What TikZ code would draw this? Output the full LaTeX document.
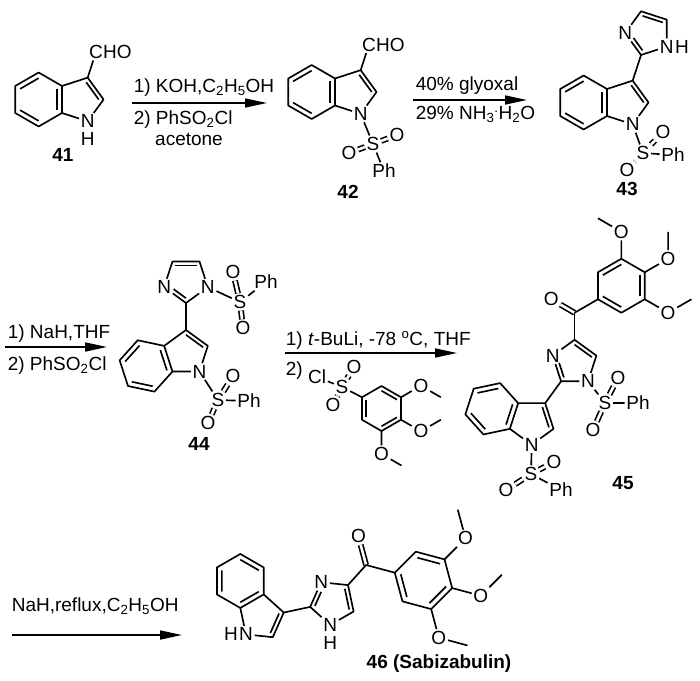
\documentclass[tikz,border=0pt]{standalone}
\usepackage{fontspec}
\setmainfont{Liberation Sans}
\usepackage{tikz}
\usetikzlibrary{arrows.meta}
\usetikzlibrary{calc}
\usetikzlibrary{positioning}

\newcommand{\chemfont}{\fontsize{19}{22}\selectfont}
\newcommand{\ringdb}[3]{\draw ($(#1)!0.21!(#3)$) -- ($(#2)!0.21!(#3)$);}

\newcommand{\indole}[1]{%
  \coordinate (#1a) at (0,-13.5);
  \coordinate (#1b) at (0,13.5);
  \coordinate (#1c4) at (-23.38,-27);
  \coordinate (#1c5) at (-46.77,-13.5);
  \coordinate (#1c6) at (-46.77,13.5);
  \coordinate (#1c7) at (-23.38,27);
  \coordinate (#1bz) at (-23.38,0);
  \coordinate (#1pz) at (18.58,0);
  \coordinate (#1c3) at (25.68,-21.85);
  \coordinate (#1c2) at (41.55,0);
  \coordinate (#1x) at (34.02,-47.53);
  \coordinate (#1y) at (41.12,-69.37);
  \node[atom] (#1n) at (25.68,21.85) {N};
  \draw (#1a) -- (#1c4) -- (#1c5) -- (#1c6) -- (#1c7) -- (#1b) -- cycle;
  \draw (#1a) -- (#1c3) -- (#1c2) -- (#1n) -- (#1b);
  \ringdb{#1a}{#1b}{#1bz} \ringdb{#1c4}{#1c5}{#1bz} \ringdb{#1c6}{#1c7}{#1bz}
  \ringdb{#1c3}{#1c2}{#1pz}
}

\newcommand{\imid}[1]{%
  \coordinate (#1c) at (0,0);
  \coordinate (#1c2) at (90:22.97);
  \coordinate (#1c4) at (234:22.97);
  \coordinate (#1c5) at (306:22.97);
  \coordinate (#1k) at (234:49.97);
  \node[atom] (#1n3) at (162:22.97) {N};
  \node[atom] (#1n1) at (18:22.97) {N};
  \draw (#1c2) -- (#1n3) -- (#1c4) -- (#1c5) -- (#1n1) -- (#1c2);
  \ringdb{#1c4}{#1c5}{#1c}
  \draw[shorten <=6pt] ($(#1n3)!0.21!(#1c)$) -- ($(#1c2)!0.21!(#1c)$);
}

\newcommand{\aroyl}[1]{%
  \coordinate (#1k) at (0,0);
  \coordinate (#1r) at (46.77,-27);
  \coordinate (#1v1) at (23.38,-13.5);
  \coordinate (#1v2) at (23.38,-40.5);
  \coordinate (#1v3) at (46.77,-54);
  \coordinate (#1v4) at (70.15,-40.5);
  \coordinate (#1v5) at (70.15,-13.5);
  \coordinate (#1v6) at (46.77,0);
  \node[atom] (#1o) at (-23.38,-13.5) {O};
  \node[atom] (#1oa) at (46.77,-81) {O};
  \node[atom] (#1ob) at (93.53,-54) {O};
  \node[atom] (#1oc) at (93.53,0) {O};
  \coordinate (#1ma) at (23.39,-94.5);
  \coordinate (#1mb) at (93.53,-81);
  \coordinate (#1mc) at (116.91,-13.5);
  \draw[dbl] (#1k) -- (#1o);
  \draw (#1k) -- (#1v1);
  \draw (#1v1) -- (#1v2) -- (#1v3) -- (#1v4) -- (#1v5) -- (#1v6) -- cycle;
  \ringdb{#1v2}{#1v3}{#1r} \ringdb{#1v4}{#1v5}{#1r} \ringdb{#1v6}{#1v1}{#1r}
  \draw (#1v3) -- (#1oa) -- (#1ma);
  \draw (#1v4) -- (#1ob) -- (#1mb);
  \draw (#1v5) -- (#1oc) -- (#1mc);
}

\newcommand{\sulfonyl}[6]{%
  \node[atom] (#1s) at (#3) {S};
  \node[atom] (#1oa) at (#4) {O};
  \node[atom] (#1ob) at (#5) {O};
  \node[atom] (#1ph) at (#6) {Ph};
  \draw (#2) -- (#1s) -- (#1ph);
  \draw[dbl] (#1s) -- (#1oa);
  \draw[dbl] (#1s) -- (#1ob);
}

\begin{document}
\begin{tikzpicture}[x=1pt, y=-1pt, line width=1.65pt, line join=round,
  atom/.style={inner sep=1pt, font=\chemfont},
  cpd/.style={inner sep=0pt, font=\chemfont\bfseries},
  cond/.style={inner sep=0pt, font=\chemfont},
  dbl/.style={double, double distance=2.6pt},
  rxn/.style={-{Triangle[length=22pt, width=9pt]}}]
\useasboundingbox (0,0) rectangle (700,680);

% 41
\begin{scope}[shift={(62,99.5)}]
  \indole{i41}
\end{scope}
\node[atom, below=1pt of i41n] (h41) {H};
\node[atom] (c41) at (i41x) {C};
\node[atom, right=-3.5pt of c41] (ho41) {HO};
\draw (i41c3) -- (c41);
\node[cpd] (l41) at (63,155) {41};

\coordinate (a1s) at (132,103);
\coordinate (a1e) at (267,103);
\draw[rxn] (a1s) -- (a1e);
\node[cond, anchor=base west] (t1a) at (133,92) {1) KOH,C\textsubscript{2}H\textsubscript{5}OH};
\node[cond, anchor=base west] (t1b) at (133,124) {2) PhSO\textsubscript{2}Cl};
\node[cond, anchor=base] (t1c) at (189,145) {acetone};

% 42
\begin{scope}[shift={(335,92)}]
  \indole{i42}
\end{scope}
\node[atom] (c42) at (i42x) {C};
\node[atom, right=-3.5pt of c42] (ho42) {HO};
\draw (i42c3) -- (c42);
\sulfonyl{s42}{i42n}{373,144}{349,153}{397,135}{384,171}
\node[cpd] (l42) at (348,192) {42};

\coordinate (a2s) at (413,100);
\coordinate (a2e) at (527,100);
\draw[rxn] (a2s) -- (a2e);
\node[cond, anchor=base west] (t2a) at (415,90) {40\% glyoxal};
\node[cond, anchor=base west] (t2b) at (415,119) {29\% NH\textsubscript{3}\textsuperscript{.}H\textsubscript{2}O};

% 43
\begin{scope}[shift={(607,102.5)}]
  \indole{i43}
\end{scope}
\begin{scope}[shift={(i43y)}, rotate=-18]
  \imid{m43}
\end{scope}
\draw (i43c3) -- (m43c2);
\node[atom, right=-2pt of m43n1] (h43) {H};
\sulfonyl{s43}{i43n}{643,153}{663,132}{627,170}{673,155}
\node[cpd] (l43) at (627,189) {43};

% 44
\coordinate (a3s) at (5,347);
\coordinate (a3e) at (107,347);
\draw[rxn] (a3s) -- (a3e);
\node[cond, anchor=base west] (t3a) at (7,338) {1) NaH,THF};
\node[cond, anchor=base west] (t3b) at (7,370) {2) PhSO\textsubscript{2}Cl};

\begin{scope}[shift={(168.3,358.7)}, rotate=18]
  \indole{i44}
\end{scope}
\begin{scope}[shift={(i44y)}]
  \imid{m44}
\end{scope}
\draw (i44c3) -- (m44c2);
\sulfonyl{s44a}{m44n1}{240,302}{233,272}{243,328}{266,282}
\sulfonyl{s44b}{i44n}{218,400}{233,376}{208,423}{249,401}
\node[cpd] (l44) at (199,444) {44};

% reagent
\coordinate (a4s) at (285,353);
\coordinate (a4e) at (457,353);
\draw[rxn] (a4s) -- (a4e);
\node[cond, anchor=base west] (t4a) at (285,345) {1) \textit{t}-BuLi, -78 \textsuperscript{o}C, THF};
\node[cond, anchor=base west] (t4b) at (285,375) {2)};
\coordinate (rc) at (381.5,408.5);
\foreach \a [count=\i] in {210,270,330,30,90,150}
  \coordinate (r\i) at ($(rc)+(\a:22.5)$);
\draw (r1) -- (r2) -- (r3) -- (r4) -- (r5) -- (r6) -- cycle;
\ringdb{r2}{r3}{rc} \ringdb{r4}{r5}{rc} \ringdb{r6}{r1}{rc}
\node[atom] (rs) at (342,387) {S};
\node[atom] (rcl) at (317,377) {Cl};
\node[atom] (rsa) at (354,367) {O};
\node[atom] (rsb) at (333,405) {O};
\draw (r1) -- (rs) -- (rcl);
\draw[dbl] (rs) -- (rsa);
\draw[dbl] (rs) -- (rsb);
\node[atom] (ro1) at ($(rc)+(330:45.5)$) {O};
\node[atom] (ro2) at ($(rc)+(30:45.5)$) {O};
\node[atom] (ro3) at ($(rc)+(90:45.5)$) {O};
\coordinate (rm1) at ($(ro1)+(30:23)$);
\coordinate (rm2) at ($(ro2)+(330:23)$);
\coordinate (rm3) at ($(ro3)+(30:23)$);
\draw (r3) -- (ro1) -- (rm1);
\draw (r4) -- (ro2) -- (rm2);
\draw (r5) -- (ro3) -- (rm3);

% 45
\begin{scope}[shift={(514,416)}, rotate=-18]
  \indole{i45}
\end{scope}
\begin{scope}[shift={(i45y)}, rotate=-36]
  \imid{m45}
\end{scope}
\draw (i45c3) -- (m45c2);
\begin{scope}[shift={(m45k)}]
  \aroyl{k45}
\end{scope}
\draw (m45c4) -- (k45k);
\sulfonyl{s45a}{m45n1}{605,403}{618,378}{593,430}{638,403}
\sulfonyl{s45b}{i45n}{531,474}{554,462}{506,490}{561,490}
\node[cpd] (l45) at (623,483) {45};

% 46
\coordinate (a5s) at (12,635);
\coordinate (a5e) at (182,635);
\draw[rxn] (a5s) -- (a5e);
\node[cond, anchor=base west] (t5a) at (11,611) {NaH,reflux,C\textsubscript{2}H\textsubscript{5}OH};

\begin{scope}[shift={(252,601.2)}, rotate=-60]
  \indole{i46}
\end{scope}
\node[atom, left=-2.5pt of i46n] (h46a) {H};
\begin{scope}[shift={(i46y)}, rotate=-78]
  \imid{m46}
\end{scope}
\draw (i46c3) -- (m46c2);
\node[atom, below=1.5pt of m46n1] (h46b) {H};
\begin{scope}[shift={(m46k)}, rotate=-45, scale=1.1]
  \aroyl{k46}
\end{scope}
\draw (m46c4) -- (k46k);
\node[cpd] (l46) at (439,664) {46 (Sabizabulin)};
\end{tikzpicture}
\end{document}
